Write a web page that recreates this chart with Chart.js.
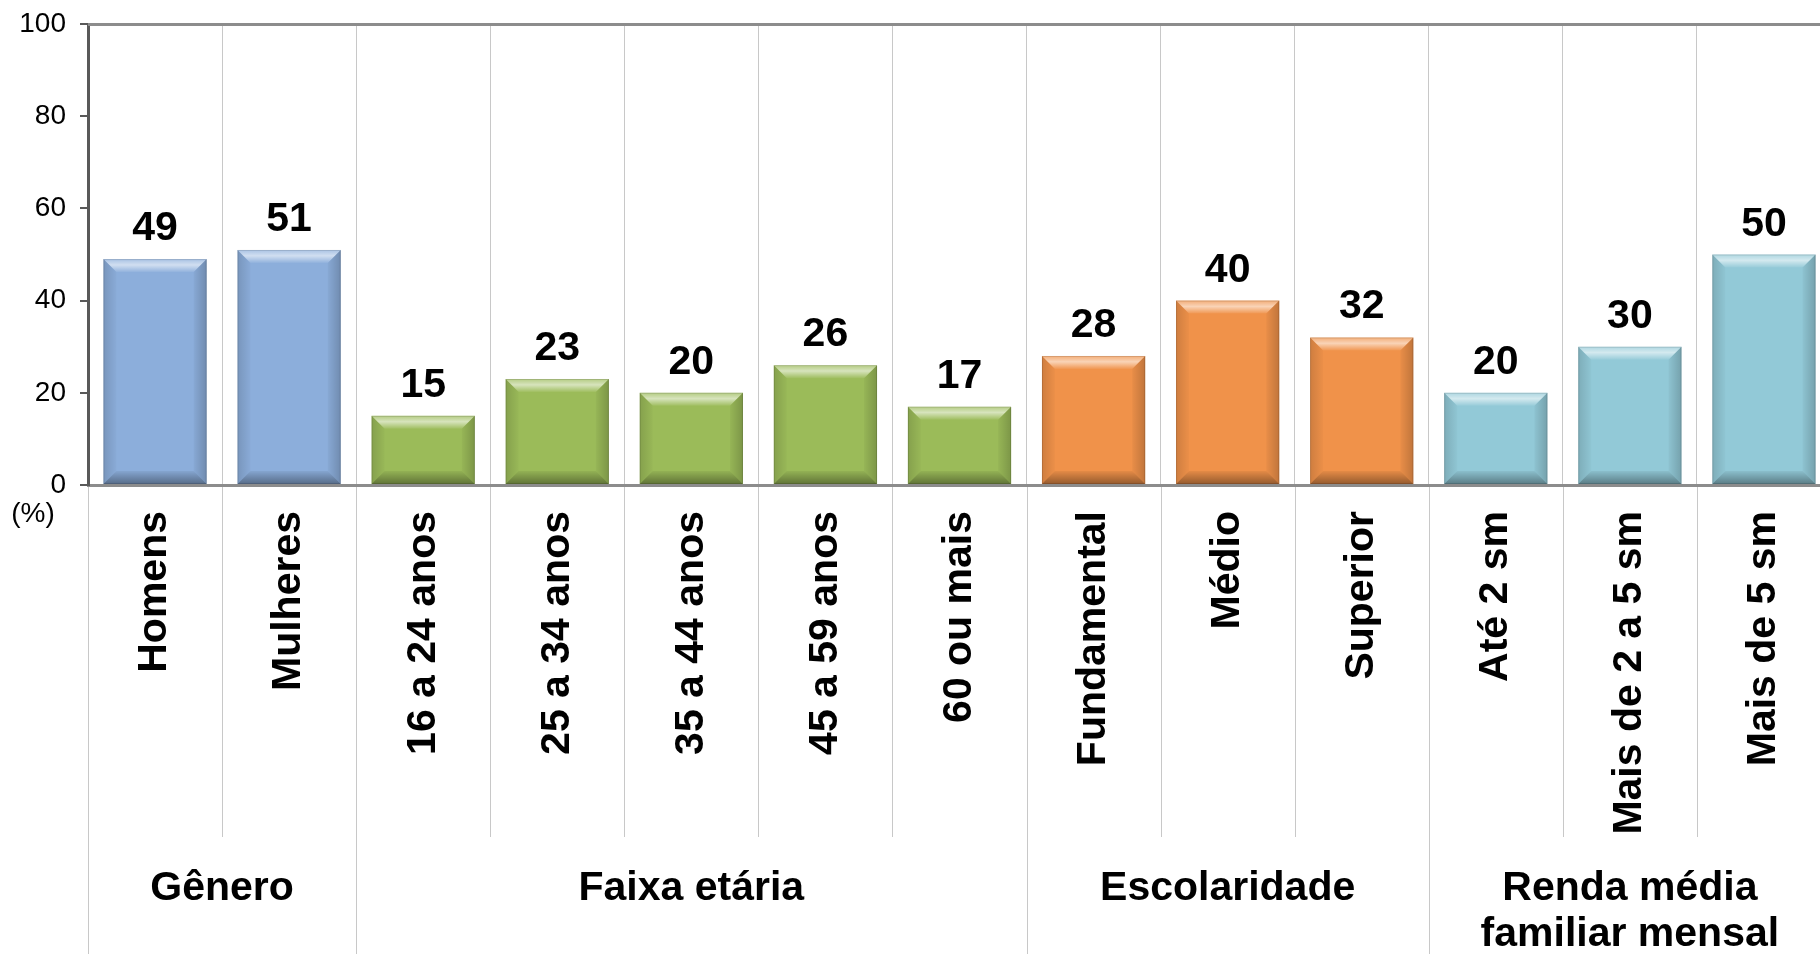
<!DOCTYPE html>
<html>
<head>
<meta charset="utf-8">
<script src="https://cdn.jsdelivr.net/npm/chart.js@4/dist/chart.umd.min.js"></script>
<style>
  html, body { margin: 0; padding: 0; background: #fff; overflow: hidden; }
  #wrap { width: 1840px; height: 954px; }
</style>
</head>
<body>
<div id="wrap"><canvas id="perfilChart" width="1840" height="954"></canvas></div>
<script>
// categorias e valores (%)
const categorias = ['Homens', 'Mulheres', '16 a 24 anos', '25 a 34 anos', '35 a 44 anos', '45 a 59 anos', '60 ou mais',
    'Fundamental', 'Médio', 'Superior', 'Até 2 sm', 'Mais de 2 a 5 sm', 'Mais de 5 sm'];
const valores = [49, 51, 15, 23, 20, 26, 17, 28, 40, 32, 20, 30, 50];

// grupos abaixo do eixo
const grupos = [['Gênero'], ['Faixa etária'], ['Escolaridade'], ['Renda média', 'familiar mensal']];
const tamanhosGrupos = [2, 5, 3, 3];
const coresGrupos = ['#8CAEDB', '#9BBB59', '#F0924A', '#92C9D7'];

const yTicks = [0, 20, 40, 60, 80, 100];

const FONTE = '"Liberation Sans", Arial, sans-serif';

// cor de cada barra conforme o grupo
const coresBarras = [];
tamanhosGrupos.forEach((n, g) => {
    for (let i = 0; i < n; i++) coresBarras.push(coresGrupos[g]);
});

// efeito de chanfro sobre as barras + rótulos de valor
const bevelPlugin = {
    id: 'bevel',
    afterDatasetsDraw(chart) {
        const ctx = chart.ctx;
        const meta = chart.getDatasetMeta(0);
        meta.data.forEach((bar, i) => {
            const L = bar.x - bar.width / 2, R = bar.x + bar.width / 2;
            const T = bar.y, B = bar.base;
            const b = Math.min(13, (B - T) / 2);
            ctx.save();
            // topo
            let g = ctx.createLinearGradient(0, T, 0, T + b);
            g.addColorStop(0, 'rgba(255,255,255,0.25)');
            g.addColorStop(0.45, 'rgba(255,255,255,0.6)');
            g.addColorStop(1, 'rgba(255,255,255,0.05)');
            ctx.fillStyle = g;
            ctx.beginPath();
            ctx.moveTo(L, T); ctx.lineTo(R, T); ctx.lineTo(R - b, T + b); ctx.lineTo(L + b, T + b); ctx.closePath();
            ctx.fill();
            // base
            g = ctx.createLinearGradient(0, B - b, 0, B);
            g.addColorStop(0, 'rgba(0,0,0,0.05)');
            g.addColorStop(1, 'rgba(0,0,0,0.38)');
            ctx.fillStyle = g;
            ctx.beginPath();
            ctx.moveTo(L, B); ctx.lineTo(R, B); ctx.lineTo(R - b, B - b); ctx.lineTo(L + b, B - b); ctx.closePath();
            ctx.fill();
            // esquerda
            g = ctx.createLinearGradient(L, 0, L + b, 0);
            g.addColorStop(0, 'rgba(0,0,0,0.14)');
            g.addColorStop(1, 'rgba(0,0,0,0.02)');
            ctx.fillStyle = g;
            ctx.beginPath();
            ctx.moveTo(L, T); ctx.lineTo(L + b, T + b); ctx.lineTo(L + b, B - b); ctx.lineTo(L, B); ctx.closePath();
            ctx.fill();
            // direita
            g = ctx.createLinearGradient(R, 0, R - b, 0);
            g.addColorStop(0, 'rgba(0,0,0,0.2)');
            g.addColorStop(1, 'rgba(0,0,0,0.03)');
            ctx.fillStyle = g;
            ctx.beginPath();
            ctx.moveTo(R, T); ctx.lineTo(R - b, T + b); ctx.lineTo(R - b, B - b); ctx.lineTo(R, B); ctx.closePath();
            ctx.fill();
            // contorno leve
            ctx.strokeStyle = 'rgba(0,0,0,0.12)';
            ctx.lineWidth = 1;
            ctx.strokeRect(L + 0.5, T + 0.5, R - L - 1, B - T - 1);

            // rótulo de valor
            ctx.fillStyle = '#000';
            ctx.font = 'bold 41px ' + FONTE;
            ctx.textAlign = 'center';
            ctx.textBaseline = 'alphabetic';
            ctx.fillText(String(valores[i]), bar.x, T - 19);
            ctx.restore();
        });
    }
};

// linhas divisórias estendidas, grupos e "(%)"
const gruposPlugin = {
    id: 'grupos',
    afterDraw(chart) {
        const ctx = chart.ctx;
        const x = chart.scales.x;
        const area = chart.chartArea;
        const passo = x.getPixelForValue(1) - x.getPixelForValue(0);
        const borda = i => x.getPixelForValue(0) - passo / 2 + i * passo;
        const limites = [0];
        tamanhosGrupos.forEach(n => limites.push(limites[limites.length - 1] + n));

        ctx.save();
        ctx.strokeStyle = '#c8c8c8';
        ctx.lineWidth = 1;
        for (let i = 0; i <= categorias.length; i++) {
            const px = Math.round(borda(i)) + 0.5;
            const fim = limites.includes(i) ? chart.height : 837;
            ctx.beginPath();
            ctx.moveTo(px, area.bottom + 2);
            ctx.lineTo(px, fim);
            ctx.stroke();
        }

        // rótulos dos grupos
        ctx.fillStyle = '#000';
        ctx.font = 'bold 41px ' + FONTE;
        ctx.textAlign = 'center';
        ctx.textBaseline = 'middle';
        grupos.forEach((linhas, g) => {
            const cx = (borda(limites[g]) + borda(limites[g + 1])) / 2;
            linhas.forEach((t, k) => ctx.fillText(t, cx, 889 + k * 46));
        });

        // linha superior
        ctx.strokeStyle = '#8c8c8c';
        ctx.lineWidth = 3;
        ctx.beginPath();
        ctx.moveTo(area.left, area.top + 0.5);
        ctx.lineTo(chart.width, area.top + 0.5);
        ctx.stroke();

        // unidade
        ctx.font = '28px ' + FONTE;
        ctx.textAlign = 'center';
        ctx.fillText('(%)', 33, 514);
        ctx.restore();
    }
};

const ctx = document.getElementById('perfilChart').getContext('2d');
new Chart(ctx, {
    type: 'bar',
    data: {
        labels: categorias,
        datasets: [{
            data: valores,
            backgroundColor: coresBarras,
            borderWidth: 0,
            categoryPercentage: 1,
            barPercentage: 0.77
        }]
    },
    options: {
        responsive: false,
        animation: false,
        devicePixelRatio: 1,
        layout: { padding: { top: 24, right: 9, left: 0, bottom: 0 } },
        plugins: {
            legend: { display: false },
            tooltip: { enabled: false }
        },
        scales: {
            x: {
                grid: { display: true, color: '#c8c8c8', lineWidth: 1, drawTicks: false, offset: true },
                border: { display: true, color: '#8c8c8c', width: 3 },
                ticks: {
                    autoSkip: false,
                    maxRotation: 90,
                    minRotation: 90,
                    padding: 26,
                    color: '#000',
                    font: { family: FONTE, size: 41, weight: 'bold' }
                },
                afterFit: s => { s.height = 469; s.paddingLeft = 0; s.paddingRight = 0; }
            },
            y: {
                min: 0,
                max: 100,
                afterBuildTicks: s => { s.ticks = yTicks.map(v => ({ value: v })); },
                grid: { drawOnChartArea: false, drawTicks: true, tickLength: 8, color: '#595959', lineWidth: 2 },
                border: { display: true, color: '#595959', width: 3 },
                ticks: {
                    padding: 14,
                    color: '#000',
                    font: { family: FONTE, size: 28 }
                },
                afterFit: s => { s.width = 88; s.paddingTop = 0; s.paddingBottom = 0; }
            }
        }
    },
    plugins: [bevelPlugin, gruposPlugin]
});
</script>
</body>
</html>
